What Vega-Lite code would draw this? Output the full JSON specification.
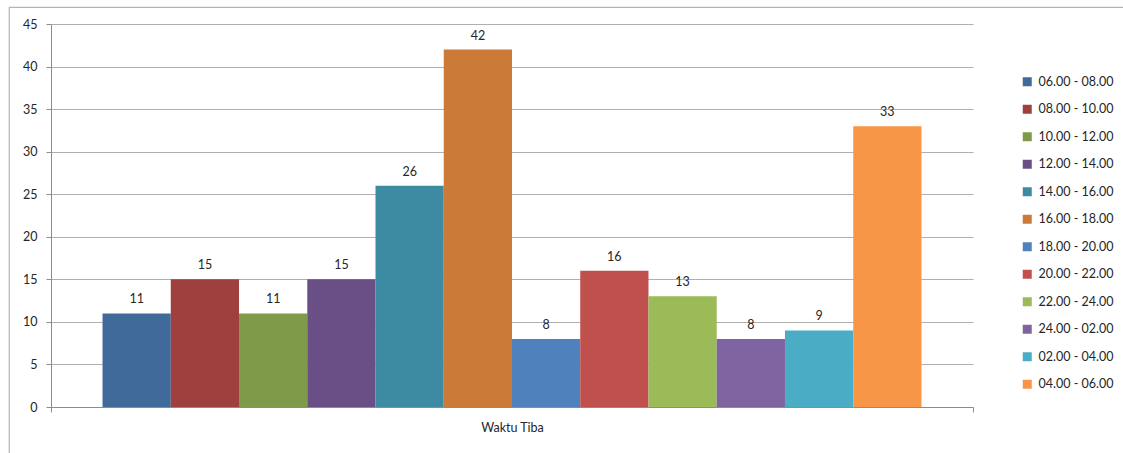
{
  "$schema": "https://vega.github.io/schema/vega-lite/v6.json",
  "usermeta": {"embedOptions": {"actions": false}},
  "autosize": "none",
  "padding": {"left": 9, "top": 7, "right": -10, "bottom": -10},
  "width": 1124,
  "height": 456,
  "background": "white",
  "config": {
    "view": {"stroke": "#b4b4b4", "strokeWidth": 1.2},
    "font": "Lato",
    "text": {"font": "Lato"}
  },
  "data": {
    "values": [
      {"kategori": "Waktu Tiba", "waktu": "06.00 - 08.00", "jumlah": 11},
      {"kategori": "Waktu Tiba", "waktu": "08.00 - 10.00", "jumlah": 15},
      {"kategori": "Waktu Tiba", "waktu": "10.00 - 12.00", "jumlah": 11},
      {"kategori": "Waktu Tiba", "waktu": "12.00 - 14.00", "jumlah": 15},
      {"kategori": "Waktu Tiba", "waktu": "14.00 - 16.00", "jumlah": 26},
      {"kategori": "Waktu Tiba", "waktu": "16.00 - 18.00", "jumlah": 42},
      {"kategori": "Waktu Tiba", "waktu": "18.00 - 20.00", "jumlah": 8},
      {"kategori": "Waktu Tiba", "waktu": "20.00 - 22.00", "jumlah": 16},
      {"kategori": "Waktu Tiba", "waktu": "22.00 - 24.00", "jumlah": 13},
      {"kategori": "Waktu Tiba", "waktu": "24.00 - 02.00", "jumlah": 8},
      {"kategori": "Waktu Tiba", "waktu": "02.00 - 04.00", "jumlah": 9},
      {"kategori": "Waktu Tiba", "waktu": "04.00 - 06.00", "jumlah": 33}
    ]
  },
  "encoding": {
    "x": {
      "field": "kategori",
      "type": "nominal",
      "scale": {"range": [42, 964], "paddingInner": 0, "paddingOuter": 0},
      "axis": {
        "title": null,
        "offset": -56,
        "tickBand": "extent",
        "labelAngle": 0,
        "domainColor": "#8c8c8c",
        "tickColor": "#8c8c8c",
        "tickSize": 5,
        "labelPadding": 9,
        "labelFontSize": 12.5,
        "labelColor": "#262626",
        "grid": false
      }
    },
    "xOffset": {
      "field": "waktu",
      "type": "nominal",
      "scale": {
        "domain": ["06.00 - 08.00", "08.00 - 10.00", "10.00 - 12.00", "12.00 - 14.00", "14.00 - 16.00", "16.00 - 18.00", "18.00 - 20.00", "20.00 - 22.00", "22.00 - 24.00", "24.00 - 02.00", "02.00 - 04.00", "04.00 - 06.00"],
        "paddingInner": 0,
        "paddingOuter": 0.755
      }
    },
    "y": {
      "field": "jumlah",
      "type": "quantitative",
      "scale": {"domain": [0, 45], "range": [400, 17], "nice": false, "zero": true},
      "axis": {
        "title": null,
        "values": [0, 5, 10, 15, 20, 25, 30, 35, 40, 45],
        "offset": -42,
        "grid": true,
        "gridColor": "#b0b0b0",
        "gridWidth": 1,
        "domainColor": "#8c8c8c",
        "tickColor": "#8c8c8c",
        "tickSize": 5,
        "labelPadding": 9,
        "labelFontSize": 12.5,
        "labelColor": "#262626"
      }
    }
  },
  "layer": [
    {
      "mark": {"type": "bar"},
      "encoding": {
        "color": {
          "field": "waktu",
          "type": "nominal",
          "scale": {
            "domain": ["06.00 - 08.00", "08.00 - 10.00", "10.00 - 12.00", "12.00 - 14.00", "14.00 - 16.00", "16.00 - 18.00", "18.00 - 20.00", "20.00 - 22.00", "22.00 - 24.00", "24.00 - 02.00", "02.00 - 04.00", "04.00 - 06.00"],
            "range": ["#3f6a9a", "#a0403e", "#7f9a48", "#6a4f86", "#3d8ba2", "#cc7a38", "#4f81bd", "#c0504d", "#9bbb59", "#8064a2", "#4bacc6", "#f79646"]
          },
          "legend": {
            "title": null,
            "orient": "none",
            "legendX": 1012,
            "legendY": 68.5,
            "padding": 0,
            "symbolType": "square",
            "symbolSize": 81,
            "symbolStrokeWidth": 0,
            "symbolOpacity": 1,
            "labelFontSize": 12.5,
            "labelColor": "#262626",
            "labelOffset": 5,
            "rowPadding": 14.5
          }
        }
      }
    },
    {
      "mark": {"type": "text", "baseline": "bottom", "dy": -7, "fontSize": 12.5, "color": "#262626"},
      "encoding": {
        "text": {"field": "jumlah", "type": "quantitative"}
      }
    }
  ]
}
